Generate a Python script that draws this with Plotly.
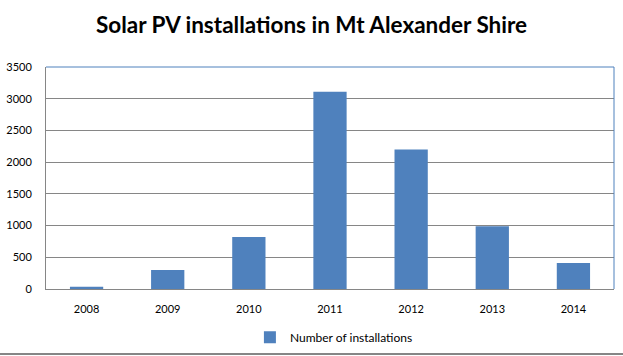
import plotly.graph_objects as go

years = ["2008", "2009", "2010", "2011", "2012", "2013", "2014"]
installations = [35, 300, 820, 3110, 2200, 990, 410]
series_name = "Number of installations"
title_text = "Solar PV installations in Mt Alexander Shire"
y_ticks = [0, 500, 1000, 1500, 2000, 2500, 3000, 3500]

fig = go.Figure()
fig.add_trace(go.Bar(
    x=years, y=installations, name=series_name,
    marker=dict(color="#4F81BD", line=dict(width=0)),
))

font_family = "Lato, Open Sans, sans-serif"
fig.update_layout(
    width=623, height=356,
    margin=dict(l=46, r=9, t=67, b=67, autoexpand=False),
    paper_bgcolor="white", plot_bgcolor="white",
    bargap=0.59,
    showlegend=True,
    title=dict(text="<b>" + title_text + "</b>", x=0.5, xanchor="center",
               y=0.93, yanchor="middle", automargin=False,
               font=dict(family=font_family, size=22.5, color="black")),
    legend=dict(orientation="h", x=0.359, xanchor="left", y=-0.217, yanchor="middle",
                font=dict(family=font_family, size=12, color="black"),
                itemwidth=30, traceorder="normal"),
    font=dict(family=font_family, size=11, color="black"),
    xaxis=dict(showgrid=False, showline=True, linecolor="#868686", linewidth=1,
               ticks="", tickfont=dict(family=font_family, size=11), ticklabelstandoff=10,
               mirror=False, automargin=False),
    yaxis=dict(range=[0, 3500], tickvals=y_ticks, showgrid=True, gridcolor="#868686",
               gridwidth=1, showline=True, linecolor="#868686", linewidth=1,
               zeroline=False, ticks="", ticklabelstandoff=11, automargin=False,
               tickfont=dict(family=font_family, size=11)),
    shapes=[
        dict(type="line", xref="paper", yref="paper", x0=0, x1=1, y0=1, y1=1,
             line=dict(color="#4F81BD", width=1)),
        dict(type="line", xref="paper", yref="paper", x0=1, x1=1, y0=0, y1=1,
             line=dict(color="#4F81BD", width=1)),
        dict(type="line", xref="paper", yref="paper", x0=-0.1, x1=1.1,
             y0=-0.293, y1=-0.293, line=dict(color="#868686", width=2)),
    ],
)

fig.write_html("out.html",
               config={"displayModeBar": False},
               post_script="document.body.style.margin='0';document.body.style.overflow='hidden';")
